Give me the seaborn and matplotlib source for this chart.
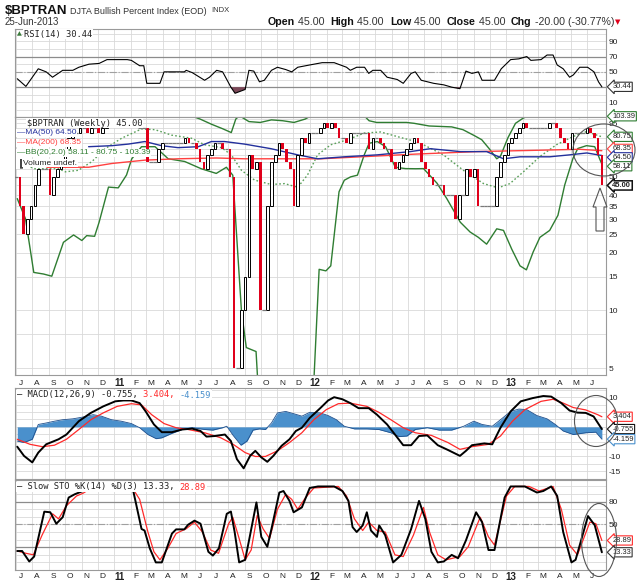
import pandas as pd
import seaborn as sns
import matplotlib.pyplot as plt
from matplotlib.patches import Ellipse, Polygon
from matplotlib.ticker import NullLocator

sns.set_theme(style="white")
plt.rcParams['font.family'] = ['Liberation Sans', 'DejaVu Sans']

W, H = 640, 584
start = pd.Timestamp('2010-07-02')   # week 0, last week (156) is 25-Jun-2013

# weekly closes of $BPTRAN
closes = [50, 35, 25, 30, 35, 45, 55, 55, 55, 40,
          50, 55, 60, 70, 80, 85, 85, 90, 90, 85,
          90, 90, 85, 90, 95, 95, 95, 100, 95, 95,
          95, 95, 90, 90, 90, 60, 60, 60, 70, 75,
          75, 75, 75, 75, 75, 80, 75, 75, 70, 60,
          55, 65, 70, 75, 75, 70, 70, 50, 5, 5,
          10, 15, 65, 55, 60, 10, 10, 35, 60, 65,
          75, 70, 60, 55, 35, 65, 80, 75, 85, 85,
          85, 90, 95, 90, 95, 90, 80, 80, 75, 85,
          85, 85, 85, 85, 70, 80, 80, 75, 70, 70,
          60, 55, 60, 65, 70, 75, 80, 75, 60, 55,
          50, 45, 45, 45, 40, 40, 40, 30, 40, 40,
          55, 50, 55, 35, 35, 35, 35, 35, 50, 60,
          65, 75, 80, 85, 90, 95, 90, 90, 90, 90,
          90, 90, 95, 95, 90, 80, 75, 70, 85, 85,
          85, 85, 90, 85, 80, 65, 45]
first_open = 50

# overlays (week index, value)
ma50_wk = [19.3, 25.5, 29.9, 34.3, 38.7, 43.1, 48.5, 52, 55.5, 60.8, 67.9, 75, 80.3,
           87.4, 96.2, 105, 110.3, 118.3, 125.3, 129.8, 134.2, 142.1, 147.4, 152, 156]
ma50_val = [71.7, 72.6, 74, 76.3, 72.6, 70.9, 71.7, 76.3, 76.3, 74, 70, 65, 62,
            63.5, 65, 67.6, 70, 67.6, 67.6, 62, 63.5, 63.5, 65, 66.5, 64.5]
ma200_wk = [8.2, 19.3, 25.5, 34.3, 43.1, 53.3, 60.8, 74.1, 81.2, 91.8, 106.4, 122.7, 140.4, 150, 156]
ma200_val = [56, 56, 58.6, 61, 62, 62.6, 62, 62, 62, 63.5, 65.6, 67.6, 68.8, 69.5, 68.35]
bbu_wk = [0, 20, 33, 37, 41, 46, 49, 52, 55, 57.3, 58.5, 59.5, 62, 65, 68, 71, 74, 77, 80, 85,
          86.5, 90, 92.7, 94, 96, 100, 104, 106, 110, 116, 119, 122, 124, 126, 128, 129, 131,
          133, 135, 137, 140, 146, 150, 153, 156]
bbu_val = [130, 120, 106, 104, 108, 105, 100, 94, 89, 85, 100, 104, 97, 96, 99, 98, 96, 100, 108, 108,
           105, 108, 104, 98, 96, 96, 96, 95, 92, 91, 88, 82, 78, 70, 62, 64, 80,
           95, 101, 105, 108, 104, 102, 103, 103.39]
bbm_wk = [0, 5, 11.3, 13.1, 16.6, 20.2, 23.7, 28.1, 33.4, 37, 41.4, 46.7, 50.2, 54.7, 57.3,
          60, 63.5, 67.9, 71.5, 75, 77.6, 80.3, 83.8, 88.3, 92.7, 97.1, 101.5, 106.4, 108.5,
          113.8, 119.1, 124.5, 128.4, 131.5, 135.1, 139.5, 143.9, 148.3, 151.9, 156]
bbm_val = [60, 55, 55, 53, 54, 60, 70, 79.4, 88.8, 88, 82.4, 79.4, 73.4, 70.9, 65,
           54, 48, 45.5, 46, 44, 51, 65, 73.4, 78, 84.5, 85.6, 81, 76.3, 73.4,
           65, 54, 46, 43.7, 46, 53, 63.7, 73.4, 81, 86, 80.75]
bbl_wk = [0.3, 2.5, 4.7, 7.3, 9.5, 12.6, 15.3, 17.5, 18.8, 20.9, 22.1, 24.6, 27.2, 29.4, 30.8,
          33.4, 37, 40.5, 44.9, 49.3, 53.3, 56, 57.7, 60, 61.3, 63.9, 64.8, 70, 78.5, 80.7,
          82.5, 83.8, 86, 87.4, 89.1, 90.9, 92.7, 94, 96.2, 98.4, 101, 103.7, 106.4, 108.5,
          112.1, 114.7, 118.3, 120.9, 123.1, 125.3, 128, 129.8, 132, 134.2, 135.9, 137.7,
          139.5, 142.1, 144.3, 146.1, 148.3, 149.6, 151.9, 154.1, 155.4, 156]
bbl_val = [38.4, 30.1, 15.8, 15.5, 15.1, 22.7, 24.8, 23.2, 24.6, 24.4, 28.9, 44.1, 43.7, 51, 62,
           71.7, 71.7, 62, 60, 55, 52, 56, 50.9, 10, 6.4, 6.1, 3, 2, 2, 16.4,
           16.1, 17.1, 41.7, 47.9, 49.9, 50.9, 64.9, 74.7, 76.3, 71.7, 56, 55.1, 55, 55.1,
           46.2, 38.4, 28.9, 25.7, 24.1, 22.2, 26.7, 26.2, 20.9, 17.1, 16.3, 20.2,
           24.1, 26.2, 31.4, 45.2, 62.3, 70.2, 72.6, 71.7, 62, 58.11]

# RSI(14)
rsi_wk = [0.3, 2.6, 5.9, 8.0, 9.7, 12.4, 15.1, 16.7, 19.4, 22.1, 24.2, 29.6, 30.7, 32.9, 34.0,
          34.8, 38.3, 39.4, 44.8, 45.3, 46.9, 50.2, 51.5, 53.4, 55.0, 57.2, 58.3, 61.0, 62.0, 63.3,
          64.8, 66.1, 68.0, 69.6, 71.8, 73.4, 75.0, 78.2, 81.5, 84.7, 88.0, 89.0, 90.7, 92.8, 93.9,
          95.0, 97.1, 98.8, 101.5, 103.1, 105.2, 106.3, 107.9, 111.2, 113.9, 116.0, 118.2, 119.8,
          121.4, 123.1, 124.1, 127.4, 129.2, 131.7, 133.9, 136.0, 137.1, 139.8, 141.4, 143.0,
          144.1, 145.7, 147.4, 148.4, 150.1, 152.2, 153.9, 155.1, 156]
rsi_val = [41, 31, 54, 50, 43, 52, 52, 56, 60, 61, 66, 66, 65, 58, 58,
           35, 35, 50, 50, 52, 49, 39, 43, 52, 50, 30, 22, 27, 52, 51,
           37, 39, 52, 56, 53, 50, 56, 59, 62, 62, 56, 52, 56, 56, 48,
           52, 52, 43, 40, 35, 48, 50, 39, 35, 33, 30, 28, 51,
           48, 50, 39, 39, 54, 66, 67, 70, 65, 66, 72, 72,
           59, 54, 43, 46, 56, 56, 50, 37, 30.44]

# MACD(12,26,9)
macd_wk = [0.3, 2.1, 4.3, 5.9, 8.0, 11.3, 13.4, 16.7, 19.9, 23.2, 26.4, 28.6, 30.7, 32.9, 34.5,
           36.7, 38.8, 41.5, 44.2, 46.9, 49.1, 50.7, 52.9, 55.6, 57.2, 58.8, 60.6, 62.3, 63.7, 65.3,
           66.9, 68.5, 70.7, 72.8, 74.5, 76.1, 78.2, 81.0, 83.1, 84.7, 86.9, 89.0, 91.2, 93.9, 96.1,
           98.8, 100.9, 103.1, 105.2, 107.3, 109.5, 112.3, 115.0, 118.2, 119.8, 121.4, 124.7, 126.8,
           129.0, 131.7, 134.4, 137.6, 140.4, 142.5, 145.2, 147.4, 149.5, 151.7, 153.8, 156]
macd_val = [-6.7, -9.8, -12, -8.7, -5.9, -4.2, -2.6, 1.9, 4.7, 6.9, 8.6, 8.9, 8.9, 8, 5.2,
            0.8, -1.8, -1.8, -0.9, -0.6, -1.4, -3.3, -3.1, -2.6, -4.8, -10.9, -14, -9.8, -8.1, -10.3,
            -11.8, -9.8, -6.4, -4.2, -1.4, -0.3, 3, 6.3, 8.9, 10, 9.3, 8, 6.3, 6.3, 4.1,
            0.8, -2.6, -6.2, -6.2, -3.1, -2.9, -6.2, -7.8, -9.8, -8.1, -6.2, -5.6, -5.9,
            -0.3, 5.2, 8.6, 9.7, 10.4, 10.2, 8, 5.5, 4.8, 4.7, 3.5, -0.755]
sig_wk = [0.3, 3.7, 7.0, 10.2, 13.4, 16.7, 19.9, 23.2, 26.9, 30.7, 33.4, 36.1, 39.4, 42.6, 45.8,
          50.2, 54.5, 57.8, 61.0, 63.7, 66.4, 69.6, 72.8, 76.1, 79.3, 82.6, 85.8, 89.0, 93.4, 96.6,
          99.8, 103.1, 106.3, 110.6, 115.0, 118.2, 121.4, 125.8, 129.0, 132.2, 135.5, 139.8, 143.0,
          145.7, 148.4, 151.7, 154.9, 156]
sig_val = [-4.2, -5.9, -6.7, -6.2, -4.2, -0.9, 2.4, 4.7, 6.9, 7.8, 7.4, 4.1, 1.1, -0.3, -0.9,
           -2, -3.7, -5.9, -8.7, -10, -10, -8.1, -5.3, -2, 2.4, 5.8, 7.8, 8, 6.9, 4.9,
           2.4, -0.3, -2, -2.9, -5.3, -7.6, -6.7, -5.9, -3.1, 1.9, 5.8, 8.6, 9.3,
           8, 6.5, 5.7, 4.1, 3.404]
hist_wk = [0.3, 2.1, 4.3, 5.9, 8.0, 10.2, 12.4, 15.1, 17.8, 20.5, 22.7, 25.4, 28.0, 30.7, 32.9,
           35.1, 37.3, 38.8, 41.5, 44.2, 46.9, 50.2, 52.4, 55.0, 56.1, 57.8, 59.9, 61.5, 63.1, 64.8,
           66.4, 68.0, 69.6, 71.8, 74.0, 76.1, 78.2, 81.0, 83.1, 85.3, 87.4, 90.1, 93.4, 96.6, 99.8,
           102.0, 104.1, 106.3, 109.5, 112.7, 116.0, 119.2, 121.9, 124.1, 126.8, 129.0, 131.7,
           133.9, 136.0, 138.7, 141.4, 143.6, 145.7, 148.4, 151.7, 154.4, 156]
hist_val = [-4.8, -5.3, -4.2, 0.8, 1.3, 1.9, 2.4, 2.7, 3.3, 4.1, 3.6, 2.4, 1.9, 1.1, -0.3,
            -2.6, -4, -3.7, -2.2, -0.9, -0.3, -0.9, -1.1, -0.3, 0.2, -2.9, -6.2, -4.8, -1.1, -0.7,
            -0.9, 1.3, 4.7, 5.2, 4.4, 3.6, 4.9, 4.7, 3.8, 2.4, 0.2, -0.7, -0.7, -0.9, -2,
            -3.3, -3.1, -0.9, -0.3, -1.1, -1.1, 0.2, 1.9, 0.8, 0.2, 2.4, 5.2,
            6, 5.8, 3.8, 2.7, 0.8, -1.4, -2.6, -2, -1.8, -4.159]

# Slow stochastic %K(14) %D(3)
k_wk = [0.3, 1.6, 3.5, 4.8, 7.5, 9.1, 10.7, 12.4, 14.0, 15.6, 17.8, 18.9, 21.0, 29.7, 31.2,
        33.4, 34.2, 35.6, 37.2, 38.8, 41.5, 42.6, 44.8, 45.8, 47.5, 49.1, 51.2, 52.4, 54.0, 56.1,
        57.2, 58.2, 59.4, 61.0, 62.3, 64.0, 65.3, 66.9, 68.0, 70.1, 71.2, 72.8, 73.9, 76.1, 78.2,
        80.4, 84.7, 86.9, 88.5, 89.6, 90.7, 92.3, 93.4, 94.5, 96.1, 96.7, 98.3, 100.4, 102.6, 105.2,
        107.3, 109.0, 110.6, 112.3, 113.9, 116.0, 117.7, 119.8, 122.5, 124.1, 125.8, 127.4, 130.1,
        131.7, 135.5, 138.7, 140.4, 142.5, 144.1, 145.7, 147.9, 149.0, 152.3, 154.1, 156]
k_val = [15, 15, 1.2, 7.7, 66.8, 66, 50.9, 59.5, 85.4, 89.7, 94, 96, 100, 100, 94,
         44, 42, 18.5, 0, 0, 38, 43.5, 43.5, 49.6, 55, 51, 14, 9, 18.5, 64,
         67, 40, 0, 3.4, 35.8, 79, 33.6, 20.6, 44, 92, 94, 81, 66, 72.4, 98,
         100, 100, 94, 81, 46.5, 40, 48.7, 66, 42, 33.6, 48.7, 35.8, 0, 9.9, 44,
         81, 57, 14, 0, 1.2, 9.9, 5.5, 29, 66, 53, 16.3, 16.3, 85.4,
         100, 100, 92, 94, 100, 87.5, 40, 0, 3.4, 61, 49, 13.33]
d_wk = [0.3, 2.6, 4.6, 6.9, 9.7, 11.3, 13.4, 16.1, 17.8, 19.4, 21.0, 30.7, 32.9, 35.1, 36.7,
        38.3, 40.4, 42.6, 45.3, 47.5, 49.6, 51.8, 53.9, 56.6, 57.7, 59.4, 61.0, 62.6, 64.2, 65.8,
        67.5, 69.6, 71.8, 73.4, 75.0, 77.1, 79.3, 85.8, 88.0, 90.1, 92.3, 93.9, 96.1, 98.3, 100.9,
        103.1, 105.8, 108.5, 110.1, 112.3, 114.5, 118.2, 120.4, 123.6, 125.8, 127.4, 130.6, 132.8,
        136.6, 139.3, 143.0, 145.2, 147.4, 149.5, 152.8, 154.4, 156]
d_val = [15, 12, 10, 35.8, 64, 57.3, 74.6, 87.5, 91, 96, 100, 100, 83, 40, 14,
         3.4, 18.5, 38, 44.4, 53, 40, 16.3, 12, 51, 59.5, 31.4, 3.4, 16.3, 61.7, 44,
         31.4, 70, 89.7, 83, 70, 85.4, 98, 100, 87.5, 57.3, 42, 53, 42, 40, 9.9,
         7.7, 35.8, 72.4, 40, 9.9, 3.4, 7.7, 20.6, 59.5, 33.6, 22.8, 87.5, 100,
         100, 94, 100, 70, 22.8, 9.9, 53, 51, 28.89]

months = pd.date_range('2010-07-01', '2013-06-01', freq='MS')
month_pos = [(m - start).days / 7 for m in months]

RED = '#e0001b'
GREEN = '#2f7d32'
BLUE = '#23309c'
MACDBLUE = '#4a90cc'

fig = plt.figure(figsize=(6.4, 5.84), dpi=100)
fig.patch.set_facecolor('white')


def panel(top, bottom):
    ax = fig.add_axes([15 / W, 1 - bottom / H, 591 / W, (bottom - top) / H])
    ax.set_facecolor('white')
    ax.set_xlim(-0.3, 157.1)
    ax.set_xticks(month_pos)
    ax.set_xticklabels([])
    ax.yaxis.tick_right()
    ax.tick_params(length=0, labelsize=6, labelcolor='#222222', pad=2)
    ax.grid(True, color='#d9d9d9', lw=0.6)
    ax.set_axisbelow(True)
    for s in ax.spines.values():
        s.set_color('#9a9a9a')
        s.set_linewidth(0.8)
    return ax


def line(ax, x, y, **kw):
    sns.lineplot(x=x, y=y, ax=ax, estimator=None, sort=False, errorbar=None,
                 legend=False, **kw)
    ax.set_xlabel('')
    ax.set_ylabel('')


def tag(ax, val, txt, ec, bold=False, dy=0):
    ax.annotate(txt, xy=(1, val), xycoords=('axes fraction', 'data'),
                xytext=(4.5, dy), textcoords='offset points', ha='left', va='center',
                fontsize=5.4, fontweight='bold' if bold else 'normal', color='#222222',
                bbox=dict(boxstyle='larrow,pad=0.15', fc='white', ec=ec,
                          lw=1.1 if bold else 0.8),
                annotation_clip=False, zorder=10)


def month_labels(ax, off):
    for p, m in zip(month_pos, months):
        jan = m.month == 1
        lab = f"{m.year % 100}" if jan else 'JFMAMJJASOND'[m.month - 1]
        ax.annotate(lab, xy=(p + 1.3, 0), xycoords=('data', 'axes fraction'),
                    xytext=(0, off), textcoords='offset points', ha='center', va='center',
                    fontsize=7 if jan else 6, fontweight='bold' if jan else 'normal',
                    color='#222222', annotation_clip=False)


def text_run(x, y, parts, size, family, bg=True):
    r = fig.canvas.get_renderer()
    xx = x
    for s, c, wt in parts:
        t = fig.text(xx / W, 1 - y / H, s, color=c, fontsize=size, fontweight=wt,
                     family=family, va='center', ha='left', zorder=6)
        if bg:
            t.set_bbox(dict(fc='white', ec='none', pad=0.6))
        xx += t.get_window_extent(renderer=r).width
    return xx


def levels(ax, hi, lo):
    ax.axhline(hi, color='#8c8c8c', lw=0.9, zorder=1.5)
    ax.axhline(lo, color='#8c8c8c', lw=0.9, zorder=1.5)
    ax.axhline(50, color='#a0a0a0', lw=0.8, ls='-.', zorder=1.5)


# ---- RSI ----
ax1 = panel(29, 117)
ax1.set_ylim(-9, 106)
ax1.set_yticks(range(0, 101, 10))
ax1.set_yticklabels([str(v) if v in (10, 50, 70, 90) else '' for v in range(0, 101, 10)])
levels(ax1, 70, 30)
ax1.fill_between(rsi_wk, rsi_val, 30, where=[v < 30 for v in rsi_val],
                 interpolate=True, color='#7b4858', lw=0, zorder=2)
line(ax1, rsi_wk, rsi_val, color='black', lw=0.8, zorder=3)
tag(ax1, rsi_val[-1], '30.44', '#333333')

# ---- price ----
ax2 = panel(117, 375)
ax2.set_yscale('log')
ax2.set_ylim(4.6, 102.5)
grid_vals = [5, 7.5] + list(range(10, 101, 5))
shown = {5, 10, 15, 20, 25, 30, 35, 40, 50, 95}
ax2.set_yticks(grid_vals)
ax2.set_yticklabels([str(v) if v in shown else '' for v in grid_vals])
ax2.yaxis.set_minor_locator(NullLocator())

line(ax2, bbu_wk, bbu_val, color=GREEN, lw=1.0, zorder=2)
line(ax2, bbl_wk, bbl_val, color=GREEN, lw=1.0, zorder=2)
line(ax2, bbm_wk, bbm_val, color='#5aa05a', lw=1.0, ls=(0, (1.2, 1.6)), zorder=2)
line(ax2, ma200_wk, ma200_val, color='#ff4040', lw=1.0, zorder=2)
line(ax2, ma50_wk, ma50_val, color=BLUE, lw=1.0, zorder=2)

opens = [first_open] + closes[:-1]
up_x, up_b, up_h, dn_x, dn_b, dn_h, fl_x, fl_y = [], [], [], [], [], [], [], []
for i, (o, c) in enumerate(zip(opens, closes)):
    if c > o:
        up_x.append(i); up_b.append(o); up_h.append(c - o)
    elif c < o:
        dn_x.append(i); dn_b.append(c); dn_h.append(o - c)
    else:
        fl_x.append(i); fl_y.append(c)
ax2.bar(up_x, up_h, bottom=up_b, width=0.7, facecolor='white', edgecolor='black',
        lw=0.7, zorder=4)
ax2.bar(dn_x, dn_h, bottom=dn_b, width=0.7, color=RED, lw=0, zorder=4)
ax2.hlines(fl_y, [x - 0.5 for x in fl_x], [x + 0.5 for x in fl_x],
           color='#7a7a7a', lw=0.9, zorder=4)

tag(ax2, 103.39, '103.39', GREEN)
tag(ax2, 80.75, '80.75', GREEN)
tag(ax2, 68.35, '68.35', '#ff4040', dy=1.3)
tag(ax2, 64.50, '64.50', BLUE, dy=-1.3)
tag(ax2, 58.11, '58.11', GREEN, dy=-1.5)
tag(ax2, 45.00, '45.00', '#111111', bold=True)
month_labels(ax2, -6)

# ---- MACD ----
ax3 = panel(388, 479)
ax3.set_ylim(-17.6, 13.1)
mt = [x * 2.5 for x in range(-6, 6)]
ax3.set_yticks(mt)
ax3.set_yticklabels([f"{v:g}" if v in (10, -10, -15) else '' for v in mt])
ax3.fill_between(hist_wk, hist_val, 0, color=MACDBLUE, lw=0, zorder=2)
line(ax3, hist_wk, hist_val, color='#1f4f8c', lw=0.6, zorder=2.5)
line(ax3, sig_wk, sig_val, color='#ff2a2a', lw=0.9, zorder=3)
line(ax3, macd_wk, macd_val, color='black', lw=1.4, zorder=3)
tag(ax3, 3.404, '3.404', '#ff2a2a')
tag(ax3, -0.755, '-0.755', '#111111')
tag(ax3, -4.159, '-4.159', MACDBLUE)

# ---- Slow STO ----
ax4 = panel(480, 570)
ax4.set_ylim(-10, 108.5)
ax4.set_yticks(range(0, 101, 10))
ax4.set_yticklabels([str(v) if v in (50, 80) else '' for v in range(0, 101, 10)])
levels(ax4, 80, 20)
line(ax4, d_wk, d_val, color='#ff2a2a', lw=0.9, zorder=3)
line(ax4, k_wk, k_val, color='black', lw=1.4, zorder=3)
tag(ax4, 28.89, '28.89', '#ff2a2a')
tag(ax4, 13.33, '13.33', '#333333')
month_labels(ax4, -5)

# ---- header ----
x = text_run(5, 11, [("$BPTRAN", '#111111', 'bold')], 9.5, ['Liberation Sans'], bg=False)
x = text_run(x + 3, 11, [("DJTA Bullish Percent Index (EOD)", '#333333', 'normal')],
             6.5, ['Liberation Sans'], bg=False)
text_run(x + 4, 11, [("INDX", '#333333', 'normal')], 5.5, ['Liberation Sans'], bg=False)
text_run(5, 22, [("25-Jun-2013", '#333333', 'normal')], 7, ['Liberation Sans'], bg=False)
x = text_run(268, 22, [("Open", '#111111', 'bold'), (" 45.00  ", '#333333', 'normal'),
                       ("High", '#111111', 'bold'), (" 45.00  ", '#333333', 'normal'),
                       ("Low", '#111111', 'bold'), (" 45.00  ", '#333333', 'normal'),
                       ("Close", '#111111', 'bold'), (" 45.00  ", '#333333', 'normal'),
                       ("Chg", '#111111', 'bold'), (" -20.00 (-30.77%)", '#333333', 'normal')],
             7.7, ['Liberation Sans'], bg=False)
text_run(x + 1, 22, [("\u25bc", RED, 'normal')], 5, ['DejaVu Sans'], bg=False)

# ---- legends ----
mono = ['DejaVu Sans Mono']
text_run(17, 34, [("\u25b2", '#3a7a3a', 'normal')], 4.5, ['DejaVu Sans'], bg=False)
text_run(24, 34, [("RSI(14) 30.44", '#222222', 'normal')], 6.3, mono)
text_run(27, 123, [("$BPTRAN (Weekly) 45.00", '#222222', 'normal')], 6.3, mono)
text_run(17, 133, [("\u2014MA(50) 64.50", BLUE, 'normal')], 6, ['Liberation Sans'])
text_run(17, 143, [("\u2014MA(200) 68.35", '#ff4040', 'normal')], 6, ['Liberation Sans'])
text_run(17, 153, [("\u2014BB(20,2.0) 58.11 - 80.75 - 103.39", GREEN, 'normal')], 6,
         ['Liberation Sans'])
text_run(17, 163, [("\u2590", '#444444', 'normal'), ("Volume undef.", '#222222', 'normal')],
         6, ['Liberation Sans', 'DejaVu Sans'])
text_run(17, 395, [("\u2014 MACD(12,26,9) -0.755, ", '#222222', 'normal'),
                   ("3.404, ", '#ff2a2a', 'normal'), ("-4.159", MACDBLUE, 'normal')], 6.3, mono)
text_run(17, 487, [("\u2014 Slow STO %K(14) %D(3) 13.33, ", '#222222', 'normal'),
                   ("28.89", '#ff2a2a', 'normal')], 6.3, mono)

# ---- hand drawn marks on the right edge ----
for cx, cy, w, h in [(604, 150, 62, 52), (596, 421, 43, 51), (599, 540, 35, 73)]:
    fig.add_artist(Ellipse((cx / W, 1 - cy / H), w / W, h / H, transform=fig.transFigure,
                           fill=False, ec='#555555', lw=0.8, zorder=8))
arrow = [(600, 188), (607, 207), (604, 207), (604, 231), (596, 231), (596, 207), (593, 207)]
fig.add_artist(Polygon([(px / W, 1 - py / H) for px, py in arrow], closed=True, fill=False,
                       ec='#555555', lw=0.8, transform=fig.transFigure, zorder=8))

fig.savefig('out.png', dpi=100, facecolor='white')
